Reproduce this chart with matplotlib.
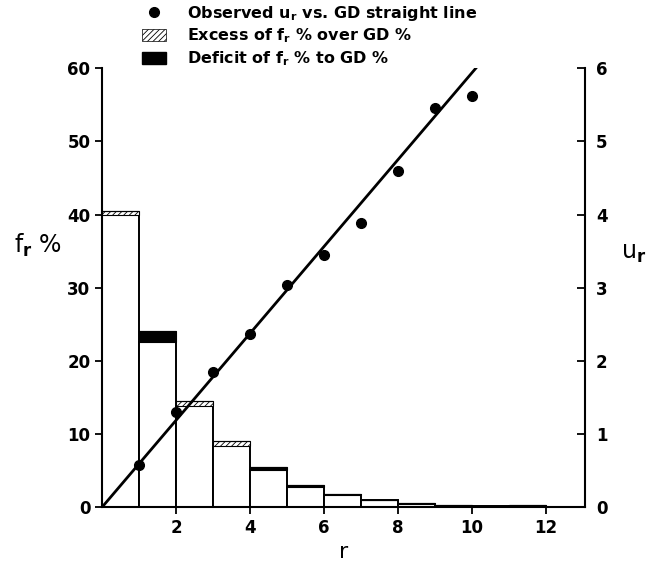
import numpy as np
import matplotlib
matplotlib.use("Agg")
import matplotlib.pyplot as plt
from matplotlib.lines import Line2D
from matplotlib.patches import Patch

plt.rcParams['font.family'] = ['DejaVu Sans']
plt.rcParams['font.weight'] = 'bold'
plt.rcParams['mathtext.fontset'] = 'custom'
plt.rcParams['mathtext.rm'] = 'DejaVu Sans:bold'
plt.rcParams['mathtext.default'] = 'rm'
plt.rcParams['hatch.linewidth'] = 0.6

# histogram bins: bar for r spans [r-1, r]
r_bins = [1, 2, 3, 4, 5, 6, 7, 8, 9, 10, 11, 12, 13]
fr_pct = [40.5, 22.5, 14.5, 9.0, 5.1, 2.7, 1.8, 1.0, 0.5, 0.3, 0.1, 0.3, 0.0]
gd_pct = [40.0, 24.1, 13.8, 8.4, 5.4, 3.0, 1.7, 1.0, 0.4, 0.2, 0.1, 0.2, 0.0]

# observed u_r
r_obs = [1, 2, 3, 4, 5, 6, 7, 8, 9, 10]
u_obs = [0.57, 1.30, 1.84, 2.37, 3.04, 3.44, 3.89, 4.60, 5.45, 5.62]

# GD straight line
line_r = [0.0, 10.1]
line_u = [0.0, 6.0]

x_ticks = [2, 4, 6, 8, 10, 12]
left_ticks = [0, 10, 20, 30, 40, 50, 60]
right_ticks = [0, 1, 2, 3, 4, 5, 6]

fig = plt.figure(figsize=(6.47, 5.69), dpi=100)
ax = fig.add_axes([0.158, 0.109, 0.746, 0.771])

fr = np.array(fr_pct)
gd = np.array(gd_pct)
left = np.array(r_bins) - 1
base = np.minimum(fr, gd)

ax.bar(left, base, width=1, align='edge', color='white', edgecolor='black', linewidth=1.4)
exc = np.where(fr > gd, fr - gd, 0)
ax.bar(left, exc, bottom=gd, width=1, align='edge', color='white', edgecolor='black',
       hatch='//////', linewidth=0.8)
dfc = np.where(gd > fr, gd - fr, 0)
ax.bar(left, dfc, bottom=fr, width=1, align='edge', color='black', edgecolor='black', linewidth=0.8)

ax.set_xlim(0, 13.05)
ax.set_ylim(0, 60)
ax.set_xticks(x_ticks)
ax.set_yticks(left_ticks)
ax.spines['top'].set_visible(False)
ax.spines['right'].set_visible(False)
for s in ['left', 'bottom']:
    ax.spines[s].set_linewidth(1.5)
ax.tick_params(direction='out', length=5, width=1.3, labelsize=12)
ax.set_xlabel('r', fontsize=16)
ax.set_ylabel('f$_r$ %', fontsize=17, rotation=0, va='center', ha='center')
ax.yaxis.set_label_coords(-0.134, 0.596)

ax2 = ax.twinx()
ax2.plot(line_r, line_u, color='black', linewidth=2)
ax2.plot(r_obs, u_obs, 'o', color='black', markersize=7)
ax2.set_ylim(0, 6)
ax2.set_yticks(right_ticks)
for s in ['top', 'left', 'bottom']:
    ax2.spines[s].set_visible(False)
ax2.spines['right'].set_linewidth(1.5)
ax2.tick_params(direction='in', length=6, width=1.3, labelsize=12, pad=8)
ax2.set_ylabel('u$_r$', fontsize=17, rotation=0, va='center', ha='center')
ax2.yaxis.set_label_coords(1.1, 0.578)

handles = [Line2D([], [], marker='o', color='black', linestyle='none', markersize=7),
           Patch(facecolor='white', edgecolor='black', hatch='//////', linewidth=0.5),
           Patch(facecolor='black', edgecolor='black')]
labels = ['Observed u$_r$ vs. GD straight line',
          'Excess of f$_r$ % over GD %',
          'Deficit of f$_r$ % to GD %']
fig.legend(handles, labels, loc='upper left', bbox_to_anchor=(0.21, 1.005), frameon=False,
           fontsize=11.5, handlelength=1.5, handleheight=0.8, handletextpad=1.3,
           labelspacing=0.25, borderaxespad=0)

fig.savefig('out.png', dpi=100)
